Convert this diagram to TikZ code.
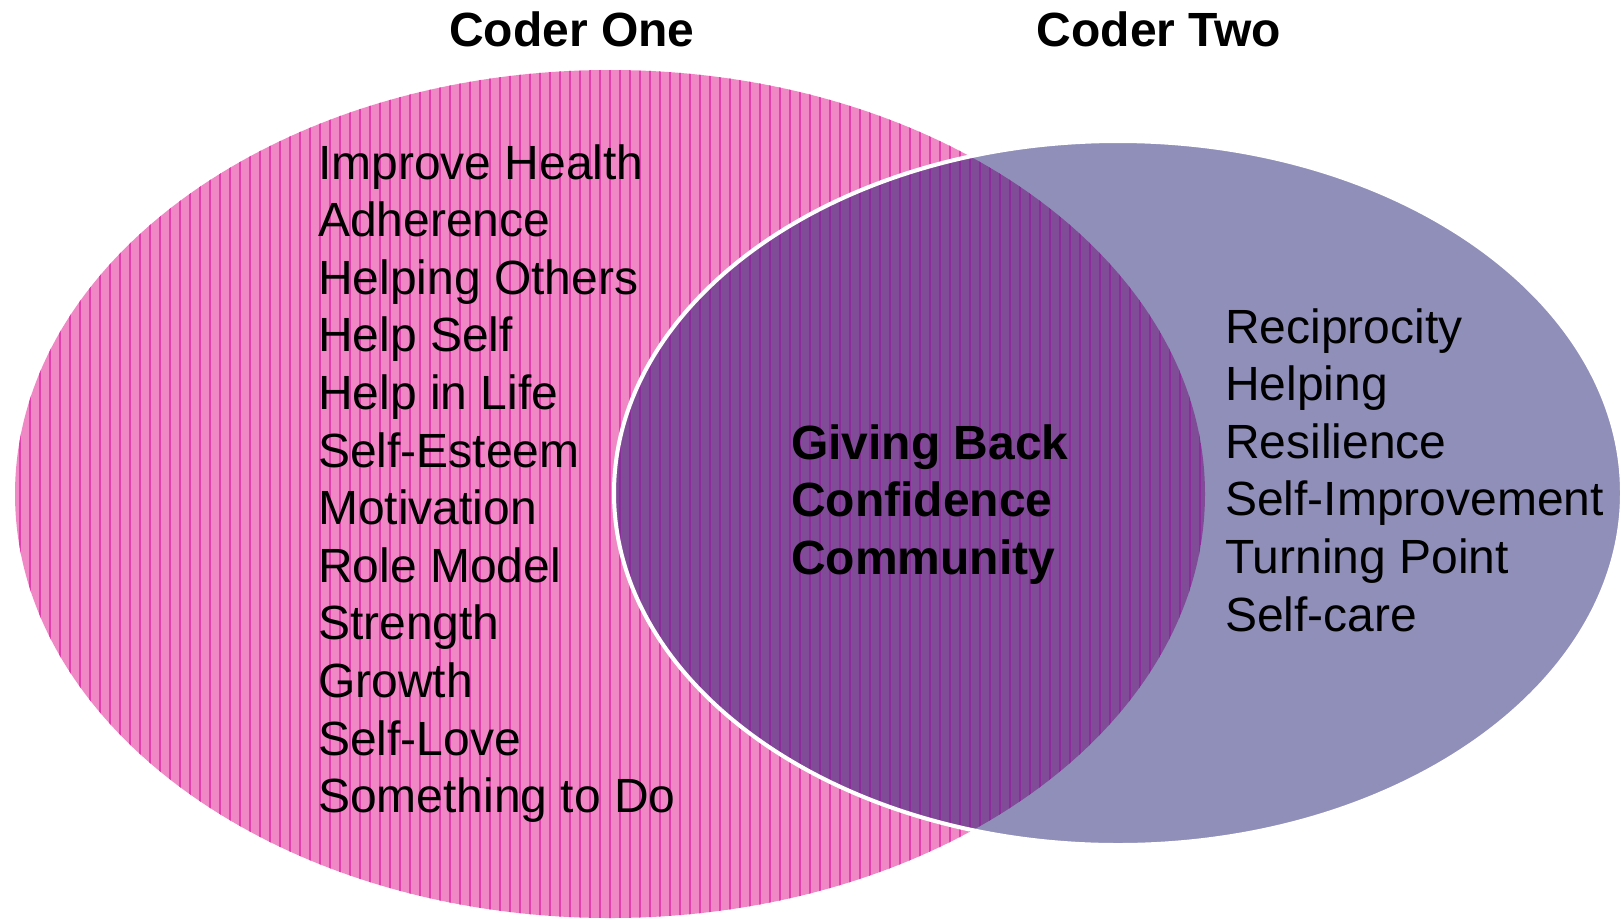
\documentclass[tikz,border=0pt]{standalone}
\usepackage{fontspec}
\setmainfont{Liberation Sans}
\definecolor{pinkfill}{RGB}{240,136,198}
\definecolor{pinkline}{RGB}{226,64,172}
\definecolor{lavfill}{RGB}{144,143,186}
\definecolor{ovfill}{RGB}{128,76,152}
\definecolor{ovline}{RGB}{140,44,155}
\tikzset{
  item/.style={anchor=base west, inner sep=0pt, font=\fontsize{48}{58}\selectfont},
  bolditem/.style={item, font=\fontsize{48}{58}\selectfont\bfseries},
  title/.style={anchor=base, inner sep=0pt, font=\fontsize{48}{58}\selectfont\bfseries},
}
\begin{document}
\begin{tikzpicture}[x=1pt,y=-1pt]
\useasboundingbox (0,0) rectangle (1621,919);
% pink ellipse with vertical stripes
\fill[pinkfill] (610,494) ellipse [x radius=595, y radius=424];
\begin{scope}
  \clip (610,494) ellipse [x radius=595, y radius=424];
  \foreach \x in {20,30,...,1210} \draw[pinkline, line width=1.1pt] (\x,60) -- (\x,930);
\end{scope}
% lavender ellipse
\fill[lavfill] (1118,493) ellipse [x radius=504, y radius=352];
% overlap
\begin{scope}
  \clip (610,494) ellipse [x radius=595, y radius=424];
  \fill[ovfill] (1118,493) ellipse [x radius=504, y radius=352];
  \clip (1118,493) ellipse [x radius=504, y radius=352];
  \foreach \x in {20,30,...,1210} \draw[ovline, line width=1.1pt] (\x,60) -- (\x,930);
\end{scope}
\draw[white, line width=4pt] (1118,493) ellipse [x radius=504, y radius=352];
% titles
\node[title] (t1) at (572,46) {Coder One};
\node[title] (t2) at (1159,46) {Coder Two};
% left list
\foreach \t [count=\i from 0] in {Improve Health,Adherence,Helping Others,Help Self,Help in Life,Self-Esteem,Motivation,Role Model,Strength,Growth,Self-Love,Something to Do}
  \node[item] (l\i) at (318,{179+57.6*\i}) {\t};
% centre list
\foreach \t [count=\i from 0] in {Giving Back,Confidence,Community}
  \node[bolditem] (c\i) at (791,{459+57.6*\i}) {\t};
% right list
\foreach \t [count=\i from 0] in {Reciprocity,Helping,Resilience,Self-Improvement,Turning Point,Self-care}
  \node[item] (r\i) at (1225,{343+57.6*\i}) {\t};
\end{tikzpicture}
\end{document}
